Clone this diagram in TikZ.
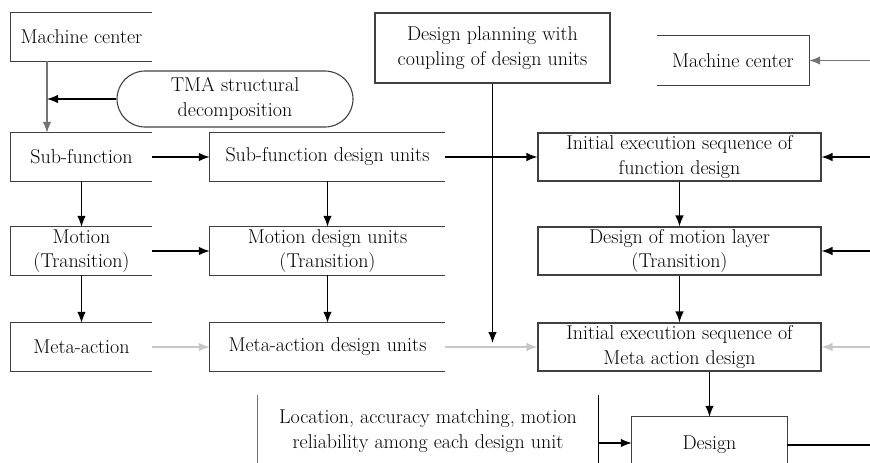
\documentclass[tikz,border=0pt]{standalone}
\usetikzlibrary{arrows.meta}
\begin{document}
\begin{tikzpicture}[x=1pt,y=-1pt,
  lbl/.style={rectangle,inner sep=0pt,align=center,
    font=\rmfamily\fontsize{20}{24.5}\selectfont},
  frame/.style={draw=black!75,line width=1.1pt},
  fullbox/.style={lbl,frame},
  link/.style={line width=1.2pt,draw=black},
  arr/.style={link,-{Latex[length=11pt,width=8.5pt]}},
  faint/.style={draw=black!22},
  greyish/.style={draw=black!55}]
\useasboundingbox (0,0) rectangle (870,463);
\clip (0,0) rectangle (870,463);

% left column
\node[lbl,minimum width=141,minimum height=48] (mcL) at (81.5,37) {Machine center};
\node[lbl,minimum width=141,minimum height=48] (sf)  at (81.5,157) {Sub-function};
\node[lbl,minimum width=141,minimum height=48] (mo)  at (81.5,251) {Motion\\(Transition)};
\node[lbl,minimum width=141,minimum height=48] (ma)  at (81.5,347) {Meta-action};

% decomposition
\node[lbl,frame,rounded corners=28pt,minimum width=236,minimum height=56] (tma) at (235,99)
  {TMA structural\\decomposition};

% design-unit column
\node[lbl,minimum width=235,minimum height=48] (sfdu) at (327.5,157) {Sub-function design units};
\node[lbl,minimum width=235,minimum height=48] (mdu)  at (327.5,251) {Motion design units\\(Transition)};
\node[lbl,minimum width=235,minimum height=48] (madu) at (327.5,347) {Meta-action design units};

% planning and execution column
\node[fullbox,minimum width=235,minimum height=70] (dp) at (492.5,48)
  {Design planning with\\coupling of design units};
\node[lbl,minimum width=152,minimum height=49] (mcR) at (733,60.5) {Machine center};
\node[fullbox,minimum width=283,minimum height=48] (ies) at (679.5,157)
  {Initial execution sequence of\\function design};
\node[fullbox,minimum width=283,minimum height=48] (dml) at (679.5,251)
  {Design of motion layer\\(Transition)};
\node[fullbox,minimum width=283,minimum height=48] (iem) at (679.5,347)
  {Initial execution sequence of\\Meta action design};

% bottom row
\node[lbl,minimum width=340,minimum height=72] (loc) at (428,431)
  {Location, accuracy matching, motion\\reliability among each design unit};
\node[lbl,minimum width=155,minimum height=56] (design) at (709.5,445) {Design};

% open frames
\foreach \n in {mcL,sf,mo,ma,sfdu,mdu,madu}
  \draw[frame] (\n.north east) -- (\n.north west) -- (\n.south west) -- (\n.south east);
\draw[frame] (mcR.north west) -- (mcR.north east) -- (mcR.south east) -- (mcR.south west);
\draw[frame] (design.south west) -- (design.north west) -- (design.north east) -- (design.south east);
\draw[frame,draw=black!55] (loc.north west) -- (loc.south west);
\draw[link] (loc.north east) -- (loc.south east);

% left-hand flow
\coordinate (j) at (47,99);
\draw[arr,greyish] (mcL.south -| j) -- (sf.north -| j);
\draw[arr] (tma.west) -- (j);
\draw[arr] (sf) -- (mo);
\draw[arr] (mo) -- (ma);
\draw[arr] (sf) -- (sfdu);
\draw[arr] (mo) -- (mdu);
\draw[arr,faint] (ma) -- (madu);
\draw[arr] (sfdu) -- (mdu);
\draw[arr] (mdu) -- (madu);

% into the execution sequences
\draw[arr] (sfdu) -- (ies);
\draw[arr,faint] (madu) -- (iem);
\coordinate (dpend) at (492,343);
\draw[arr] (dp.south) -- (dp.south |- dpend);
\draw[arr] (ies) -- (dml);
\draw[arr] (dml) -- (iem);
\draw[arr] (iem.south -| design.north) -- (design.north);

% inputs from the right
\coordinate (r0) at (870,60.5);
\coordinate (r1) at (870,157);
\coordinate (r2) at (870,251);
\coordinate (r3) at (870,347);
\draw[arr,greyish] (r0) -- (mcR.east);
\draw[arr] (r1) -- (ies.east);
\draw[arr] (r2) -- (dml.east);
\draw[arr,faint] (r3) -- (iem.east);

% design inputs and output
\coordinate (la) at (598,443);
\draw[arr] (la) -- (la -| design.west);
\coordinate (out) at (870,445);
\draw[link] (design.east) -- (out);
\end{tikzpicture}
\end{document}
